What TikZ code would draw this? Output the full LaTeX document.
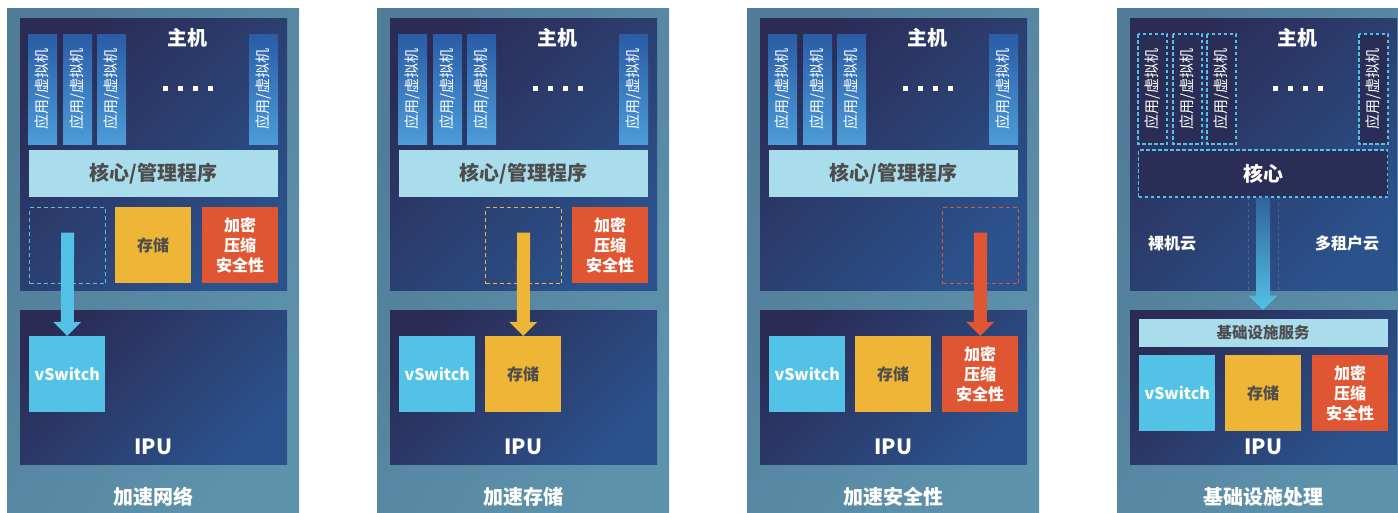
\documentclass[tikz,border=0pt]{standalone}
\usepackage{fontspec}
\setmainfont{Noto Sans CJK SC}
\usetikzlibrary{arrows.meta,calc}
\definecolor{panelA}{HTML}{517C98}
\definecolor{panelB}{HTML}{5E93AC}
\definecolor{navyA}{HTML}{2B2C56}
\definecolor{navyB}{HTML}{2B528C}
\definecolor{vmA}{HTML}{2A5CA6}
\definecolor{vmB}{HTML}{4C9CD8}
\definecolor{lightbar}{HTML}{AADDEB}
\definecolor{swc}{HTML}{52C2E6}
\definecolor{storc}{HTML}{EEB537}
\definecolor{secc}{HTML}{E05532}
\definecolor{txtgray}{HTML}{4D4D4D}
\definecolor{darkbox}{HTML}{2A2D55}
\tikzset{
  vmbar/.style={rotate=90, minimum width=110pt, minimum height=29pt, inner sep=0pt,
    top color=vmA, bottom color=vmB, text=white, font=\fontsize{15}{15}\selectfont},
  vmdash/.style={rotate=90, minimum width=110pt, minimum height=29pt, inner sep=0pt,
    fill=darkbox, draw=swc, dashed, line width=1.2pt, dash pattern=on 3.5pt off 2.5pt,
    text=white, font=\fontsize{15}{15}\selectfont},
  corebar/.style={minimum width=249pt, minimum height=47pt, inner sep=0pt, fill=lightbar,
    text=txtgray, font=\fontsize{20}{20}\selectfont\bfseries},
  sqbox/.style={anchor=north west, minimum width=76pt, minimum height=76pt, inner sep=0pt,
    align=center, font=\fontsize{16}{20}\selectfont\bfseries},
  swbox/.style={sqbox, fill=swc, text=white},
  storbox/.style={sqbox, fill=storc, text=txtgray},
  secbox/.style={sqbox, fill=secc, text=white},
  slotbox/.style={sqbox, dashed, line width=1.2pt, dash pattern=on 4pt off 3pt},
  bigarrow/.style={line width=13pt, -{Triangle[width=27pt,length=14pt]}},
  titletext/.style={text=white, font=\fontsize{20}{20}\selectfont\bfseries},
  whitetext/.style={text=white, font=\fontsize{16}{16}\selectfont\bfseries},
}
\newcommand\drawpanel[4]{% #1 dx, #2 id, #3 label, #4 vm style
  \begin{scope}[xshift=#1pt]
    \shade[top color=panelA, bottom color=panelB, shading angle=60] (7,-8) rectangle (299,-530);
    \shade[top color=navyA, bottom color=navyB, shading angle=45] (20,-18) rectangle (287,-290);
    \shade[top color=navyA, bottom color=navyB, shading angle=45] (20,-310) rectangle (287,-464);
    \node[#4] (vm#2a) at (42.5,-89) {应用/虚拟机};
    \node[#4] (vm#2b) at (77.5,-89) {应用/虚拟机};
    \node[#4] (vm#2c) at (111.5,-89) {应用/虚拟机};
    \node[#4] (vm#2d) at (263.5,-89) {应用/虚拟机};
    \node[titletext] (host#2) at (187,-38) {主机};
    \foreach \xx in {165.5,180.5,195.5,210.5} \fill[white] (\xx-2.5,-85.5) rectangle ++(5,-5);
    \node[titletext, font=\fontsize{21}{21}\selectfont\bfseries] (ipu#2) at (153.5,-447) {IPU};
    \node[titletext] (lbl#2) at (153.5,-497) {#3};
  \end{scope}}
\begin{document}
\begin{tikzpicture}[x=1pt,y=1pt]
\useasboundingbox (0,0) rectangle (1398,-512);
\clip (0,0) rectangle (1398,-512);
\fill[white] (0,0) rectangle (1398,-512);

% ---------- panel 1 ----------
\drawpanel{0}{1}{加速网络}{vmbar}
\begin{scope}
  \node[corebar] (core1) at (153.5,-173.5) {核心/管理程序};
  \node[slotbox, draw=swc] (slot1) at (29,-207) {};
  \node[storbox] (hs1) at (115,-207) {存储};
  \node[secbox] (hc1) at (202,-207) {加密\\压缩\\安全性};
  \node[swbox] (isw1) at (29,-336) {vSwitch};
  \draw[bigarrow, swc] ($(slot1.center)+(0,13)$) -- (isw1.north);
\end{scope}

% ---------- panel 2 ----------
\drawpanel{370}{2}{加速存储}{vmbar}
\begin{scope}[xshift=370pt]
  \node[corebar] (core2) at (153.5,-173.5) {核心/管理程序};
  \node[slotbox, draw=storc] (slot2) at (115,-207) {};
  \node[secbox] (hc2) at (202,-207) {加密\\压缩\\安全性};
  \node[swbox] (isw2) at (29,-336) {vSwitch};
  \node[storbox] (ist2) at (115,-336) {存储};
  \draw[bigarrow, storc] ($(slot2.center)+(0,13)$) -- (ist2.north);
\end{scope}

% ---------- panel 3 ----------
\drawpanel{740}{3}{加速安全性}{vmbar}
\begin{scope}[xshift=740pt]
  \node[corebar] (core3) at (153.5,-173.5) {核心/管理程序};
  \node[slotbox, draw=secc] (slot3) at (202,-207) {};
  \node[swbox] (isw3) at (29,-336) {vSwitch};
  \node[storbox] (ist3) at (115,-336) {存储};
  \node[secbox] (isc3) at (202,-336) {加密\\压缩\\安全性};
  \draw[bigarrow, secc] ($(slot3.center)+(0,13)$) -- (isc3.north);
\end{scope}

% ---------- panel 4 ----------
\drawpanel{1110}{4}{基础设施处理}{vmdash}
\begin{scope}[xshift=1110pt]
  \draw[navyB!70!white, opacity=0.5, dashed, line width=0.6pt] (138,-197) -- (138,-290);
  \draw[navyB!70!white, opacity=0.5, dashed, line width=0.6pt] (168,-197) -- (168,-290);
  \node[corebar, fill=darkbox, draw=swc, dashed, line width=1.2pt, dash pattern=on 3.5pt off 2.5pt, text=white] (core4) at (153,-173.5) {核心};
  \node[whitetext] (bm4) at (62,-243) {裸机云};
  \node[whitetext] (mt4) at (237,-243) {多租户云};
  \node[corebar, minimum height=28pt, font=\fontsize{15.5}{15.5}\selectfont\bfseries] (svc4) at (153,-333) {基础设施服务};
  \node[swbox] (isw4) at (29,-355) {vSwitch};
  \node[storbox] (ist4) at (115,-355) {存储};
  \node[secbox] (isc4) at (202,-355) {加密\\压缩\\安全性};
  \shade[top color=navyB!85!swc, bottom color=swc]
    ($(core4.south)+(-7,0)$) -- ++(0,-98) -- ++(-7.5,0) -- ($(svc4.north)+(0,9)$)
    -- ($(core4.south)+(14.5,-98)$) -- ++(-7.5,0) -- ($(core4.south)+(7,0)$) -- cycle;
\end{scope}
\end{tikzpicture}
\end{document}
